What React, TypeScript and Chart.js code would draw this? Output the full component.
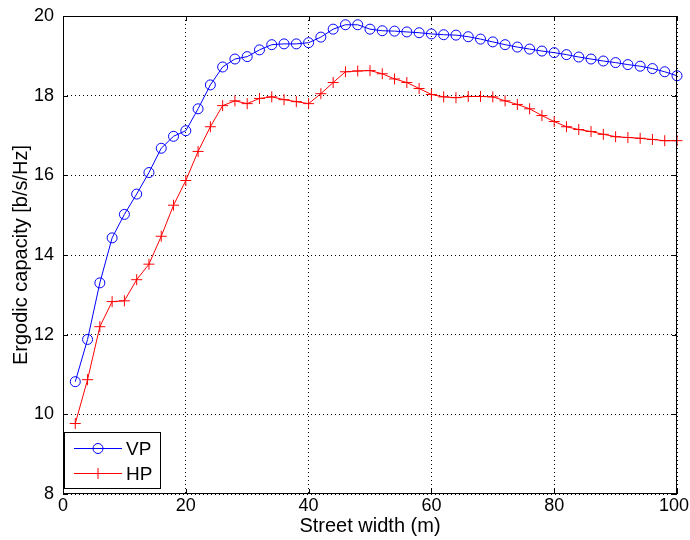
import { useEffect, useRef } from "react";
import { Chart, registerables } from "chart.js";

Chart.register(...registerables);

const streetWidth = [
  2, 4, 6, 8, 10, 12, 14, 16, 18, 20, 22, 24, 26, 28, 30, 32, 34, 36, 38, 40,
  42, 44, 46, 48, 50, 52, 54, 56, 58, 60, 62, 64, 66, 68, 70, 72, 74, 76, 78, 80,
  82, 84, 86, 88, 90, 92, 94, 96, 98, 100,
];

const vpCapacity = [
  10.82, 11.88, 13.3, 14.43, 15.02, 15.53, 16.07, 16.68, 16.98, 17.12,
  17.67, 18.27, 18.72, 18.92, 18.98, 19.15, 19.28, 19.3, 19.3, 19.33,
  19.47, 19.67, 19.78, 19.78, 19.67, 19.63, 19.62, 19.6, 19.58, 19.55,
  19.53, 19.52, 19.48, 19.42, 19.35, 19.28, 19.22, 19.17, 19.12, 19.08,
  19.03, 18.97, 18.92, 18.87, 18.83, 18.78, 18.74, 18.68, 18.6, 18.5,
];

const hpCapacity = [
  9.77, 10.87, 12.2, 12.83, 12.85, 13.38, 13.77, 14.47, 15.25, 15.87,
  16.6, 17.22, 17.75, 17.87, 17.8, 17.93, 17.97, 17.9, 17.85, 17.8,
  18.05, 18.33, 18.6, 18.62, 18.63, 18.55, 18.42, 18.33, 18.18, 18.03,
  17.97, 17.95, 17.98, 17.98, 17.97, 17.87, 17.78, 17.67, 17.5, 17.35,
  17.22, 17.15, 17.1, 17.03, 16.97, 16.95, 16.93, 16.9, 16.87, 16.87,
];

const xTicks = [0, 20, 40, 60, 80, 100];
const yTicks = [8, 10, 12, 14, 16, 18, 20];

const seriesNames = ["VP", "HP"];
const seriesColors = ["#0000ff", "#ff0000"];

const FONT = "'Liberation Sans', Arial, Helvetica, sans-serif";

const framePlugin = {
  id: "matlabFrame",
  afterDraw(chart: any) {
    const { ctx, chartArea, width } = chart;
    const { left, right, top, bottom } = chartArea;
    const xs = chart.scales.x;
    const ys = chart.scales.y;
    ctx.save();
    ctx.strokeStyle = "#000";
    ctx.lineWidth = 1;
    ctx.setLineDash([]);
    ctx.strokeRect(Math.round(left) + 0.5, Math.round(top) + 0.5, Math.round(right - left) - 1, Math.round(bottom - top) - 1);
    const tl = 5;
    ctx.beginPath();
    for (const v of xTicks) {
      const px = Math.round(xs.getPixelForValue(v)) + 0.5;
      ctx.moveTo(px, bottom);
      ctx.lineTo(px, bottom - tl);
      ctx.moveTo(px, top);
      ctx.lineTo(px, top + tl);
    }
    for (const v of yTicks) {
      const py = Math.round(ys.getPixelForValue(v)) + 0.5;
      ctx.moveTo(left, py);
      ctx.lineTo(left + tl, py);
      ctx.moveTo(right, py);
      ctx.lineTo(right - tl, py);
    }
    ctx.stroke();

    // x tick labels (kept inside the canvas like MATLAB does)
    ctx.font = `18px ${FONT}`;
    ctx.fillStyle = "#000";
    ctx.textBaseline = "middle";
    ctx.textAlign = "center";
    for (const v of xTicks) {
      const label = String(v);
      const w = ctx.measureText(label).width;
      let px = xs.getPixelForValue(v);
      px = Math.min(px, width - 1 - w / 2);
      ctx.fillText(label, px, bottom + 12);
    }

    // legend box
    const lx = Math.round(left) + 1;
    const ly = 432;
    const lw = 96;
    const lh = 56;
    ctx.fillStyle = "#fff";
    ctx.fillRect(lx, ly, lw, lh);
    ctx.strokeStyle = "#000";
    ctx.lineWidth = 1;
    ctx.strokeRect(lx + 0.5, ly + 0.5, lw, lh);
    ctx.font = `19px ${FONT}`;
    ctx.textBaseline = "middle";
    ctx.textAlign = "left";
    const rows = [448.5, 473.5];
    rows.forEach((ry, i) => {
      const c = seriesColors[i];
      ctx.strokeStyle = c;
      ctx.lineWidth = 1;
      ctx.beginPath();
      ctx.moveTo(lx + 10, ry);
      ctx.lineTo(lx + 58, ry);
      ctx.stroke();
      const mx = lx + 34;
      ctx.beginPath();
      if (i === 0) {
        ctx.arc(mx, ry, 5, 0, Math.PI * 2);
      } else {
        ctx.moveTo(mx - 5.5, ry);
        ctx.lineTo(mx + 5.5, ry);
        ctx.moveTo(mx, ry - 5.5);
        ctx.lineTo(mx, ry + 5.5);
      }
      ctx.stroke();
      ctx.fillStyle = "#000";
      ctx.fillText(seriesNames[i], lx + 62, ry + 1);
    });
    ctx.restore();
  },
};

export default function App() {
  const ref = useRef<HTMLCanvasElement | null>(null);

  useEffect(() => {
    if (!ref.current) return;
    const mk = (ys: number[]) => streetWidth.map((x, i) => ({ x, y: ys[i] }));
    const chart = new Chart(ref.current, {
      type: "line",
      data: {
        datasets: [
          {
            label: seriesNames[0],
            data: mk(vpCapacity),
            borderColor: seriesColors[0],
            backgroundColor: "rgba(0,0,0,0)",
            borderWidth: 1,
            pointStyle: "circle",
            pointRadius: 5,
            pointBorderWidth: 1,
            pointBorderColor: seriesColors[0],
            pointBackgroundColor: "rgba(0,0,0,0)",
            tension: 0,
            clip: false as any,
          },
          {
            label: seriesNames[1],
            data: mk(hpCapacity),
            borderColor: seriesColors[1],
            backgroundColor: "rgba(0,0,0,0)",
            borderWidth: 1,
            pointStyle: "cross",
            pointRadius: 5.5,
            pointBorderWidth: 1,
            pointBorderColor: seriesColors[1],
            pointBackgroundColor: "rgba(0,0,0,0)",
            tension: 0,
            clip: false as any,
          },
        ],
      },
      options: {
        animation: false,
        responsive: false,
        devicePixelRatio: 1,
        layout: { autoPadding: false, padding: { top: 16, right: 13, left: 0, bottom: 0 } },
        plugins: {
          legend: { display: false },
          tooltip: { enabled: false },
        },
        scales: {
          x: {
            type: "linear",
            min: 0,
            max: 100,
            afterFit: (s: any) => {
              s.height = 46;
              s.paddingLeft = 0;
              s.paddingRight = 0;
              s.paddingTop = 0;
              s.paddingBottom = 0;
            },
            afterBuildTicks: (s: any) => {
              s.ticks = xTicks.map((v) => ({ value: v }));
            },
            ticks: {
              display: false,
              color: "#000",
              font: { family: FONT, size: 18 },
              padding: 0,
              maxRotation: 0,
            },
            grid: {
              color: "#000",
              lineWidth: 1,
              drawTicks: false,
            },
            border: { display: false, dash: [1, 3] },
            title: {
              display: true,
              text: "Street width (m)",
              color: "#000",
              font: { family: FONT, size: 20 },
              padding: { top: 0, bottom: 2 },
            },
          },
          y: {
            type: "linear",
            min: 8,
            max: 20,
            afterFit: (s: any) => {
              s.width = 63;
              s.paddingLeft = 0;
              s.paddingRight = 0;
              s.paddingTop = 0;
              s.paddingBottom = 0;
            },
            afterBuildTicks: (s: any) => {
              s.ticks = yTicks.map((v) => ({ value: v }));
            },
            ticks: {
              color: "#000",
              font: { family: FONT, size: 18 },
              padding: 9,
            },
            grid: {
              color: "#000",
              lineWidth: 1,
              drawTicks: false,
            },
            border: { display: false, dash: [1, 3] },
            title: {
              display: true,
              text: "Ergodic capacity [b/s/Hz]",
              color: "#000",
              font: { family: FONT, size: 20 },
              padding: { top: 9, bottom: 0 },
            },
          },
        },
      },
      plugins: [framePlugin],
    });
    return () => chart.destroy();
  }, []);

  return (
    <div style={{ position: "absolute", left: 0, top: 0, width: 690, height: 540, background: "#fff" }}>
      <canvas ref={ref} width={690} height={540} style={{ display: "block" }} />
    </div>
  );
}
